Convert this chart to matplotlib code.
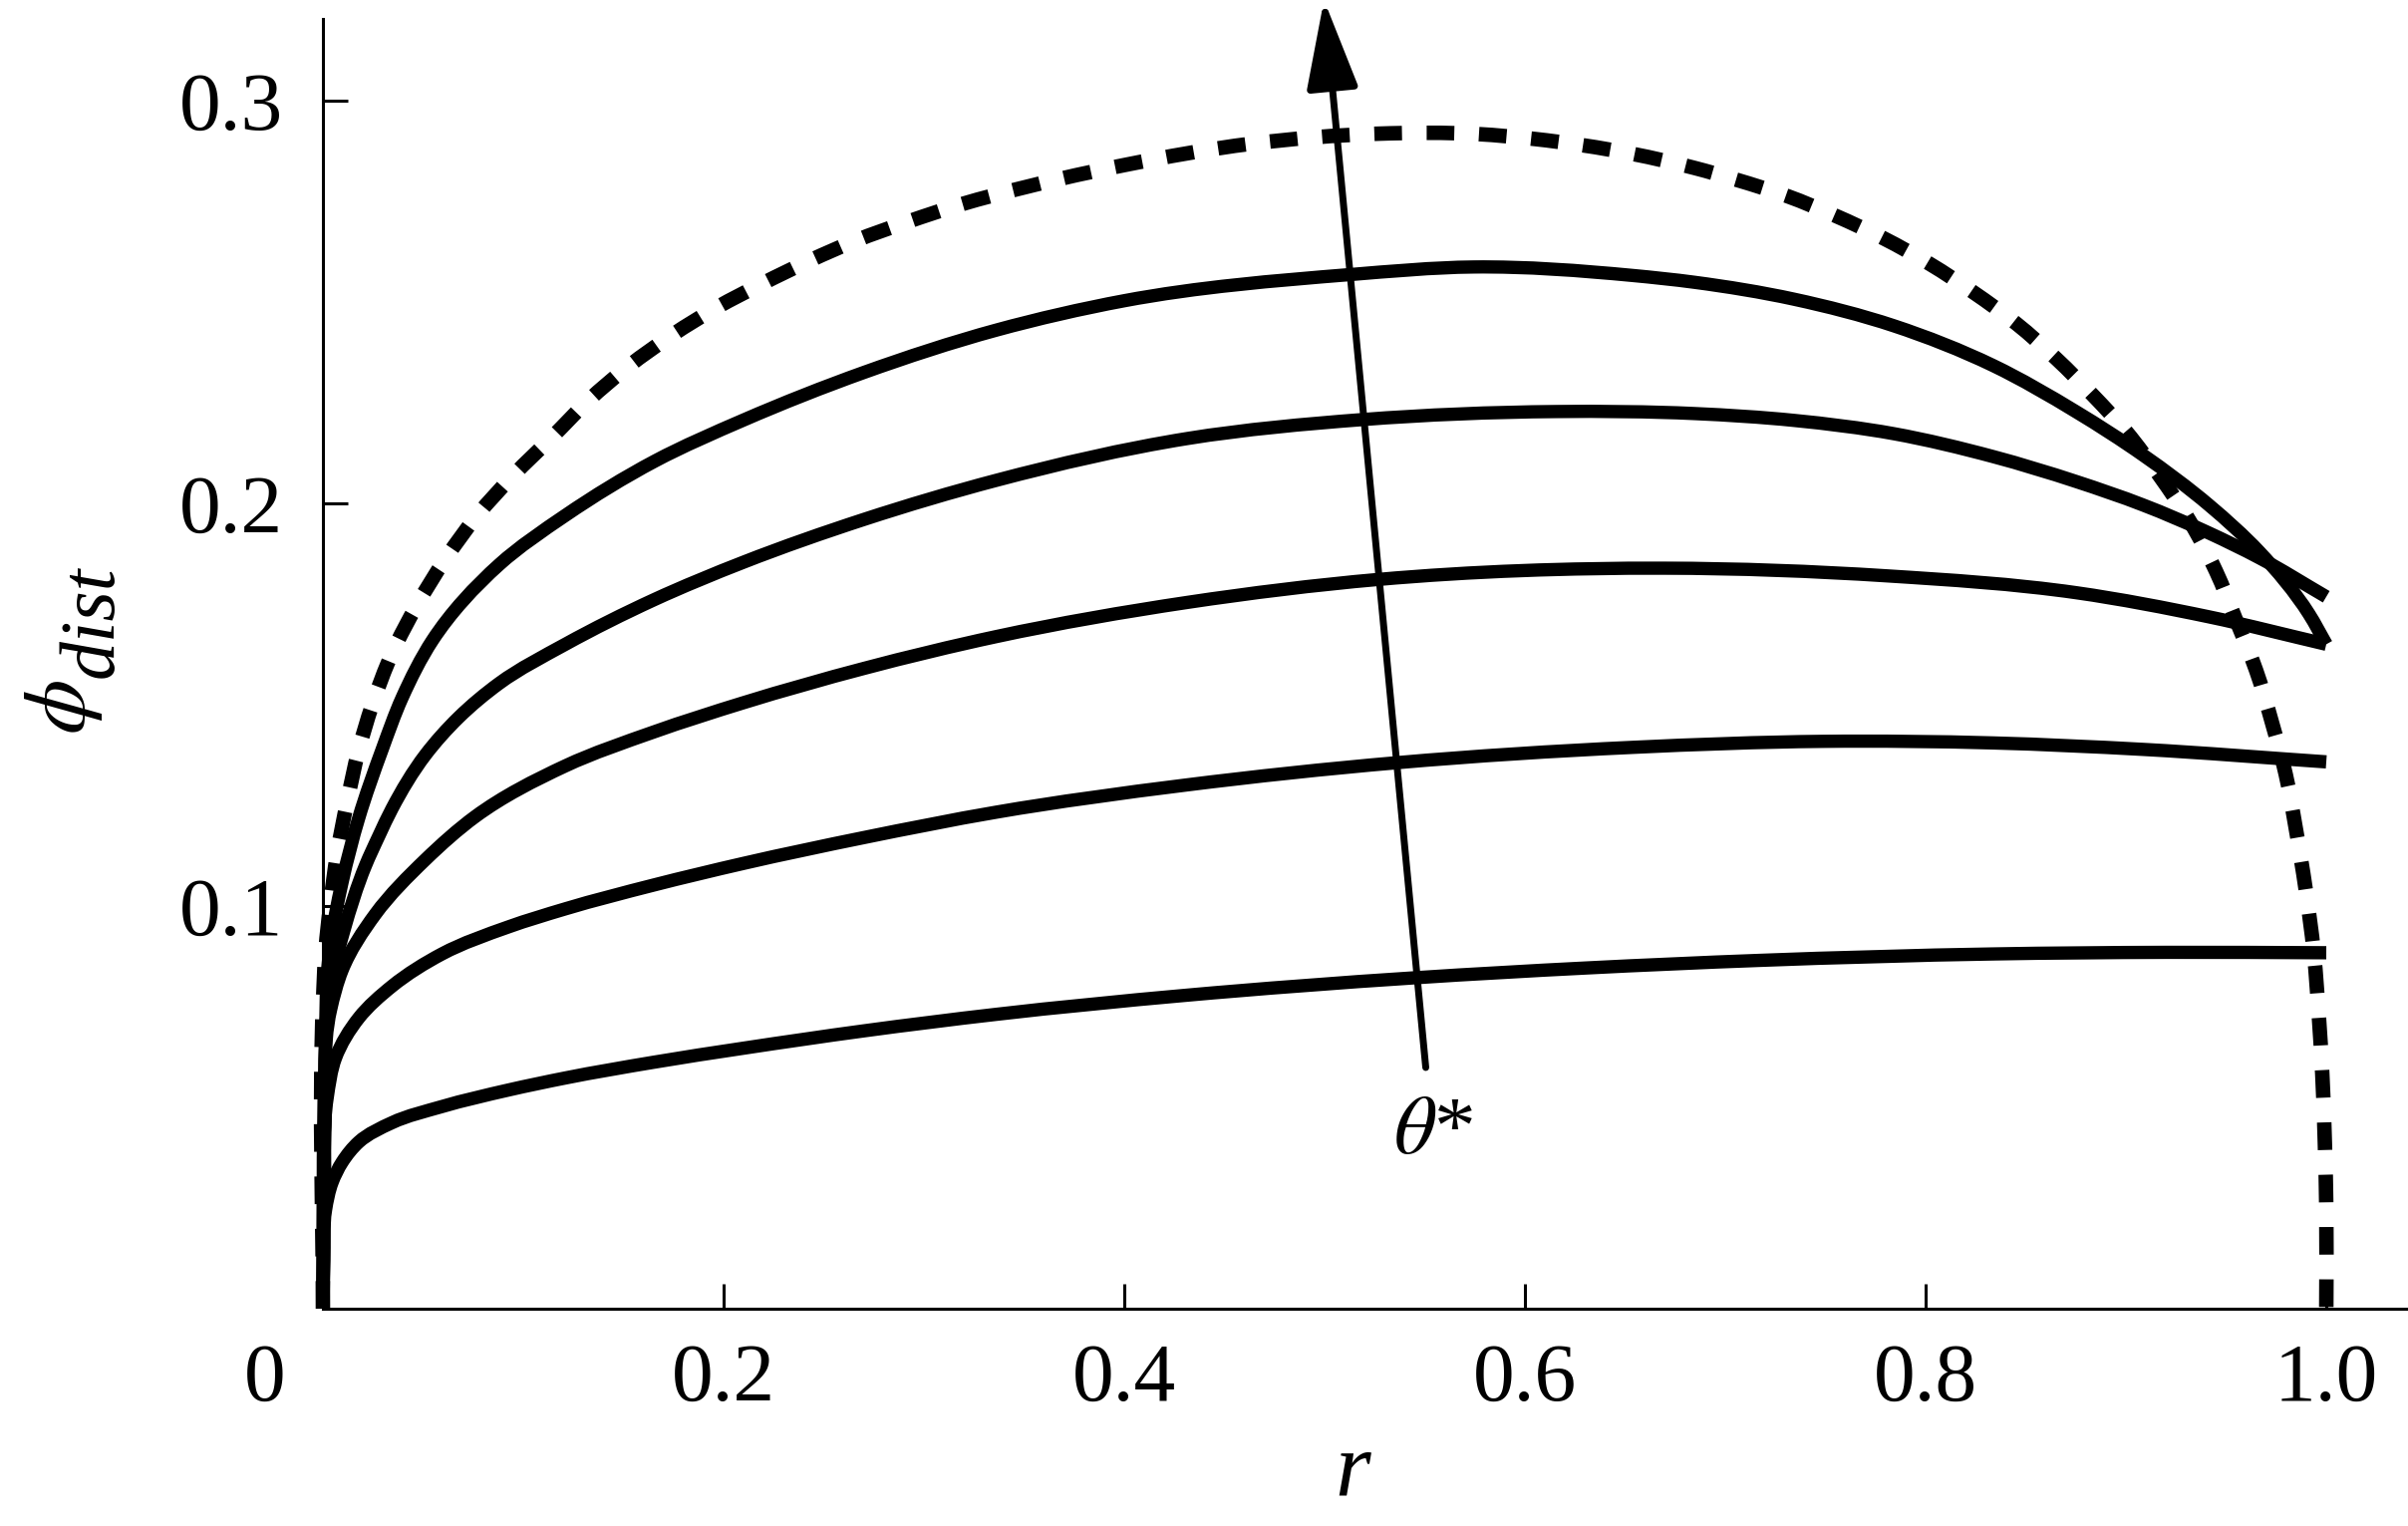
import numpy as np
import matplotlib
matplotlib.use('Agg')
import matplotlib.pyplot as plt
from matplotlib.path import Path
from matplotlib.patches import PathPatch

plt.rcParams['font.family'] = ['Liberation Serif', 'DejaVu Serif']
plt.rcParams['mathtext.fontset'] = 'stix'

# curves: r and phi_dist, lowest to highest theta*
r1 = [0.0, 0.0005, 0.0013, 0.0046, 0.0096, 0.0179, 0.0345, 0.0594, 0.0925, 0.121,
      0.165, 0.21, 0.27, 0.336, 0.43, 0.5457, 0.63, 0.717, 0.8338, 0.92, 1.0]
phi1 = [0.0, 0.012, 0.0245, 0.0314, 0.0364, 0.0414, 0.0462, 0.0502, 0.0543, 0.0573,
        0.0612, 0.0647, 0.0690, 0.0731, 0.0778, 0.0822, 0.0846, 0.0865, 0.0881, 0.0885, 0.0884]

r2 = [0.0, 0.0008, 0.0021, 0.0063, 0.0179, 0.0345, 0.0594, 0.0925, 0.121, 0.165,
      0.21, 0.27, 0.336, 0.43, 0.5362, 0.6536, 0.7488, 0.8338, 0.9085, 1.0]
phi2 = [0.0, 0.03, 0.0523, 0.0623, 0.0722, 0.0801, 0.0881, 0.0948, 0.0993, 0.1052,
        0.1106, 0.117, 0.1233, 0.130, 0.1356, 0.1394, 0.1409, 0.1405, 0.1389, 0.1358]

r3 = [0.0, 0.001, 0.0038, 0.0096, 0.0262, 0.0511, 0.076, 0.121, 0.165, 0.21,
      0.27, 0.336, 0.4315, 0.5267, 0.6695, 0.7805, 0.8753, 0.9416, 1.0]
phi3 = [0.0, 0.045, 0.0742, 0.0841, 0.098, 0.1115, 0.1222, 0.1348, 0.1432, 0.1505,
        0.159, 0.1669, 0.1754, 0.1811, 0.1839, 0.182, 0.1778, 0.1718, 0.165]

r4 = [0.0, 0.001, 0.0036, 0.0105, 0.0212, 0.028, 0.0345, 0.0511, 0.0677, 0.088,
      0.121, 0.165, 0.21, 0.27, 0.336, 0.4315, 0.5188, 0.6155, 0.6846, 0.7343,
      0.7841, 0.8338, 0.8753, 0.9085, 0.9416, 0.9665, 1.0]
phi4 = [0.0, 0.05, 0.080, 0.094, 0.110, 0.1175, 0.1242, 0.1375, 0.1468, 0.1553,
        0.165, 0.176, 0.1854, 0.196, 0.2057, 0.2161, 0.2208, 0.2228, 0.2223, 0.2206,
        0.2173, 0.2116, 0.2054, 0.1996, 0.1926, 0.1865, 0.1768]

r5 = [0.0, 0.001, 0.0036, 0.0096, 0.0179, 0.0295, 0.0395, 0.0547, 0.088, 0.121,
      0.1657, 0.21, 0.27, 0.336, 0.3998, 0.5124, 0.5743, 0.6536, 0.6846, 0.7343,
      0.7841, 0.8338, 0.8753, 0.9085, 0.9416, 0.9665, 0.9914, 1.0]
phi5 = [0.0, 0.06, 0.09, 0.106, 0.1219, 0.1388, 0.1517, 0.166, 0.1848, 0.197,
        0.2105, 0.2207, 0.2325, 0.2430, 0.2503, 0.2568, 0.2587, 0.2566, 0.2549, 0.2507,
        0.2441, 0.2342, 0.2227, 0.212, 0.1995, 0.188, 0.1725, 0.165]

# dashed envelope
r_env = [0.0, 0.0, 0.0013, 0.0038, 0.0071, 0.0121, 0.0179, 0.0245, 0.0347, 0.0469,
         0.0614, 0.077, 0.0947, 0.1147, 0.1324, 0.1524, 0.1746, 0.1968, 0.219, 0.2435,
         0.2657, 0.2923, 0.3168, 0.3363, 0.40, 0.4632, 0.5267, 0.5766, 0.6046, 0.6536,
         0.6846, 0.7053, 0.731, 0.7551, 0.7791, 0.8023, 0.8239, 0.8454, 0.8653, 0.8836,
         0.9002, 0.9168, 0.9317, 0.945, 0.955, 0.965, 0.9731, 0.9798, 0.9847, 0.9897,
         0.9938, 0.9963, 0.998, 0.9993, 1.0, 1.0]
phi_env = [0.0, 0.0758, 0.0891, 0.101, 0.113, 0.1259, 0.1388, 0.1498, 0.163, 0.1747,
           0.1864, 0.197, 0.2068, 0.2166, 0.2255, 0.234, 0.2419, 0.2487, 0.2545, 0.2604,
           0.2652, 0.270, 0.274, 0.2767, 0.2840, 0.2893, 0.2918, 0.2917, 0.2905, 0.2868,
           0.2833, 0.2804, 0.2763, 0.2714, 0.2658, 0.2594, 0.2524, 0.2446, 0.2359, 0.2268,
           0.2178, 0.2068, 0.1957, 0.1831, 0.1710, 0.1585, 0.1452, 0.1326, 0.1195, 0.1042,
           0.0884, 0.0726, 0.0584, 0.041, 0.0252, 0.0]

xticks = [0.2, 0.4, 0.6, 0.8, 1.0]
xtick_labels = ['0.2', '0.4', '0.6', '0.8', '1.0']
yticks = [0.1, 0.2, 0.3]
ytick_labels = ['0.1', '0.2', '0.3']

W, H = 2416, 1531
KY = 4040 / 2010  # y pixels per unit over x pixels per unit


def smooth_path(xs, ys):
    # cubic bezier through the read points (chord-length tangents)
    p = np.column_stack([xs, np.asarray(ys) * KY])
    seg = np.diff(p, axis=0)
    d = np.hypot(seg[:, 0], seg[:, 1])
    u = seg / d[:, None]
    t = np.empty_like(p)
    t[0], t[-1] = u[0], u[-1]
    t[1:-1] = (d[1:, None] * u[:-1] + d[:-1, None] * u[1:]) / (d[:-1] + d[1:])[:, None]
    verts = [p[0]]
    for i in range(len(d)):
        verts += [p[i] + t[i] * d[i] / 3, p[i + 1] - t[i + 1] * d[i] / 3, p[i + 1]]
    verts = np.array(verts)
    verts[:, 1] /= KY
    codes = [Path.MOVETO] + [Path.CURVE4] * (len(verts) - 1)
    return Path(verts, codes)


fig = plt.figure(figsize=(W / 100, H / 100), dpi=100)
ax = fig.add_axes([324 / W, 1 - 1313 / H, 1 - 324 / W, (1313 - 19) / H])

for r, phi in [(r1, phi1), (r2, phi2), (r3, phi3), (r4, phi4), (r5, phi5)]:
    ax.add_patch(PathPatch(smooth_path(r, phi), fill=False, edgecolor='black', lw=9.6,
                           capstyle='butt', joinstyle='round', clip_on=False, zorder=3))
ax.add_patch(PathPatch(smooth_path(r_env, phi_env), fill=False, edgecolor='black', lw=10.5,
                       linestyle=(0, (1.9, 1.7)), capstyle='butt', clip_on=False,
                       zorder=3))

ax.annotate('', xy=(0.4997, 0.325), xytext=(0.5505, 0.0599),
            arrowprops=dict(arrowstyle='-|>,head_length=2.75,head_width=0.8',
                            mutation_scale=20, lw=5, color='black',
                            shrinkA=0, shrinkB=0),
            annotation_clip=False, zorder=4)

ax.set_xlim(0, 2092 / 2010)
ax.set_ylim(0, 1294 / 4040)
for s in ['top', 'right']:
    ax.spines[s].set_visible(False)
for s in ['left', 'bottom']:
    ax.spines[s].set_linewidth(2.2)

ax.set_xticks(xticks)
ax.set_xticklabels(xtick_labels)
ax.set_yticks(yticks)
ax.set_yticklabels(ytick_labels)
ax.tick_params(axis='both', direction='in', length=18, width=2.2, labelsize=60)
ax.tick_params(axis='x', pad=25)
ax.tick_params(axis='y', pad=29)

# origin label and axis titles
fig.text(266 / W, 1 - 1347 / H, '0', ha='center', va='top', fontsize=60)
fig.text(1357 / W, 1 - 1500 / H, 'r', style='italic', ha='center',
         va='baseline', fontsize=66)
fig.text(1438 / W, 1 - 1157 / H, r'$\theta$*', ha='center', va='baseline', fontsize=60)
fig.text(85 / W, 1 - 737 / H, r'$\phi$', rotation=90, rotation_mode='anchor',
         ha='left', va='baseline', fontsize=64)
fig.text(113 / W, 1 - 680 / H, 'dist', style='italic', rotation=90,
         rotation_mode='anchor', ha='left', va='baseline', fontsize=56)

fig.savefig('out.png', dpi=100, facecolor='white')
